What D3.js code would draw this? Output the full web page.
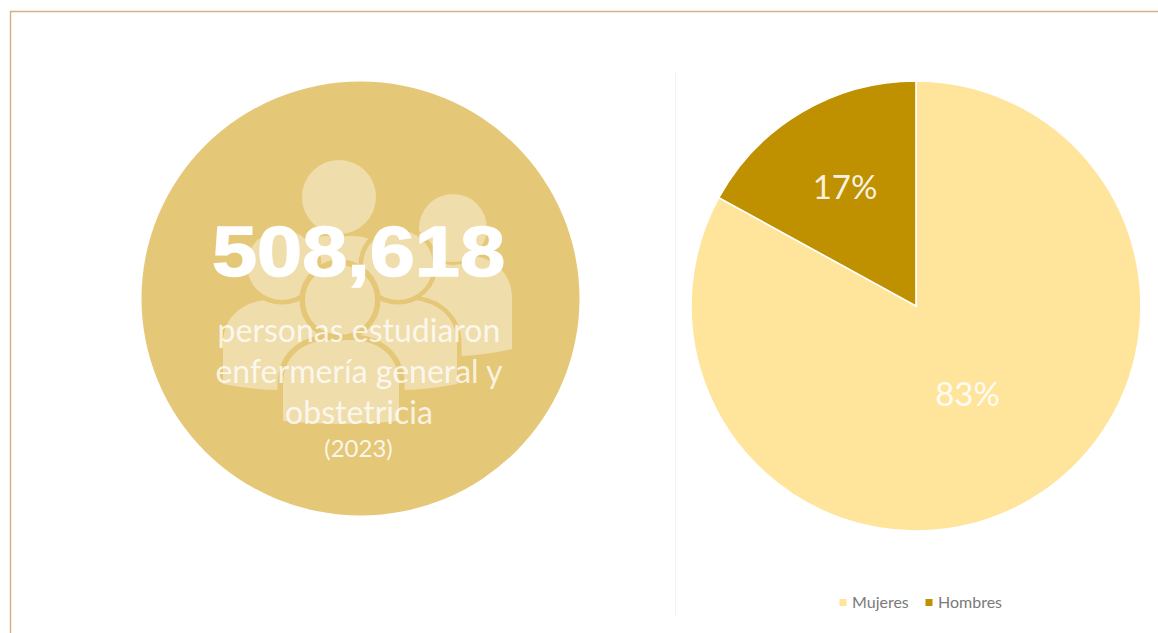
<!DOCTYPE html>
<html lang="es">
<head>
<meta charset="utf-8">
<title>Enfermería general y obstetricia (2023)</title>
<script src="https://cdn.jsdelivr.net/npm/d3@7"></script>
<style>
  html, body { margin: 0; background: #fff; }
  svg { display: block; }
  text { font-family: Lato, "Open Sans", sans-serif; }
</style>
</head>
<body>
<svg id="chart" width="1158" height="633"></svg>
<script>
// Data
const categories = ["Mujeres", "Hombres"];
const shares = [83, 17];
const totalLabel = "508,618";
const captionLines = ["personas estudiaron", "enfermería general y", "obstetricia"];
const yearLabel = "(2023)";

// Styling
const sliceColors = ["#FFE49B", "#BF9000"];
const discColor = "#E5C778";
const figureColor = "#F0DDAC";
const frameColor = "#D8AE84";

const svg = d3.select("#chart");

// Frame around the panel
svg.append("path")
  .attr("d", d3.line()([[10.5, 633], [10.5, 11.5], [1158, 11.5]]))
  .attr("fill", "none").attr("stroke", frameColor).attr("stroke-width", 1.4);

// Hairline between the two panels
svg.append("line")
  .attr("x1", 675.5).attr("x2", 675.5).attr("y1", 72).attr("y2", 617)
  .attr("stroke", "#F3F3F3").attr("stroke-width", 1);

// Left panel: disc
svg.append("ellipse")
  .attr("cx", 360.5).attr("cy", 298.5).attr("rx", 219).attr("ry", 217)
  .attr("fill", discColor);

// Group-of-people pictogram; each figure is a head plus domed shoulders
function shoulders(cx, top, halfWidth, bottom, sag) {
  const p = d3.path();
  const shoulderY = top + 44;
  p.moveTo(cx - halfWidth, bottom - sag);
  p.lineTo(cx - halfWidth, shoulderY);
  p.bezierCurveTo(cx - halfWidth, top + 12, cx - halfWidth * 0.55, top, cx - halfWidth * 0.2, top);
  p.lineTo(cx + halfWidth * 0.2, top);
  p.bezierCurveTo(cx + halfWidth * 0.55, top, cx + halfWidth, top + 12, cx + halfWidth, shoulderY);
  p.lineTo(cx + halfWidth, bottom - sag);
  p.quadraticCurveTo(cx, bottom + sag, cx - halfWidth, bottom - sag);
  p.closePath();
  return p.toString();
}

const people = [
  { head: [453, 228, 34], body: [453, 255, 59, 356, 7], ring: 6 },
  { head: [339, 197, 37], body: [339, 236, 60, 300, 4], ring: 6 },
  { head: [282, 265, 35], body: [282, 300, 59, 390, 6], ring: 9 },
  { head: [398, 265, 35], body: [398, 300, 59, 390, 6], ring: 9 },
  { head: [340, 300, 35], body: [341, 340, 58, 424, 3], ring: 11 }
];

const figures = svg.append("g");
people.forEach(person => {
  const [hx, hy, hr] = person.head;
  const [bx, bt, bw, bb, bs] = person.body;
  const fig = figures.append("g")
    .attr("fill", figureColor)
    .attr("stroke", discColor)
    .attr("stroke-width", person.ring)
    .attr("paint-order", "stroke");
  fig.append("path").attr("d", shoulders(bx, bt, bw, bb, bs));
  fig.append("circle").attr("cx", hx).attr("cy", hy).attr("r", hr);
});

// Headline figure and caption
svg.append("text")
  .attr("x", 358.5).attr("y", 276)
  .attr("text-anchor", "middle")
  .attr("textLength", 293)
  .attr("lengthAdjust", "spacingAndGlyphs")
  .style("font-family", "'Liberation Sans', Arial, sans-serif")
  .style("font-weight", 700)
  .style("font-size", "70px")
  .style("stroke", "#fff").style("stroke-width", "1.4px")
  .attr("fill", "#fff")
  .text(totalLabel);

svg.append("g").selectAll("text")
  .data(captionLines)
  .join("text")
  .attr("x", 359)
  .attr("y", (d, i) => 342 + i * 41)
  .attr("text-anchor", "middle")
  .attr("fill", "#fff").attr("fill-opacity", 0.78)
  .style("font-size", "32px")
  .text(d => d);

svg.append("text")
  .attr("x", 358.5).attr("y", 457)
  .attr("text-anchor", "middle")
  .attr("fill", "#fff").attr("fill-opacity", 0.85)
  .style("font-size", "24px")
  .text(yearLabel);

// Right panel: pie, starting at twelve o'clock and running clockwise
const pieCenter = [916, 306];
const pieRadius = 225;
const labelRadii = [0.45, 0.62];

const pieData = d3.pie().sort(null).value(d => d)(shares);
const arc = d3.arc().innerRadius(0).outerRadius(pieRadius);

const pieGroup = svg.append("g")
  .attr("transform", `translate(${pieCenter[0]},${pieCenter[1]})`);

pieGroup.selectAll("path")
  .data(pieData)
  .join("path")
  .attr("d", arc)
  .attr("fill", (d, i) => sliceColors[i])
  .attr("stroke", "#fff")
  .attr("stroke-width", 1.6);

pieGroup.selectAll("text")
  .data(pieData)
  .join("text")
  .attr("transform", (d, i) => {
    const r = pieRadius * labelRadii[i];
    const c = d3.arc().innerRadius(r).outerRadius(r).centroid(d);
    return `translate(${c[0]},${c[1]})`;
  })
  .attr("text-anchor", "middle")
  .attr("dy", "0.4em")
  .attr("fill", "#fff")
  .attr("fill-opacity", 0.9)
  .style("font-size", "33px")
  .text(d => d.value + "%");

// Legend
const legendX = d3.scaleOrdinal().domain(categories).range([843, 929]);
const legend = svg.append("g").selectAll("g")
  .data(categories)
  .join("g")
  .attr("transform", d => `translate(${legendX(d)},602.5)`);

legend.append("rect")
  .attr("x", -3.5).attr("y", -3.5).attr("width", 7).attr("height", 7)
  .attr("fill", (d, i) => sliceColors[i]);

legend.append("text")
  .attr("x", 9).attr("dy", "0.35em")
  .attr("fill", "#7A7A7A")
  .style("font-size", "16px")
  .text(d => d);
</script>
</body>
</html>
